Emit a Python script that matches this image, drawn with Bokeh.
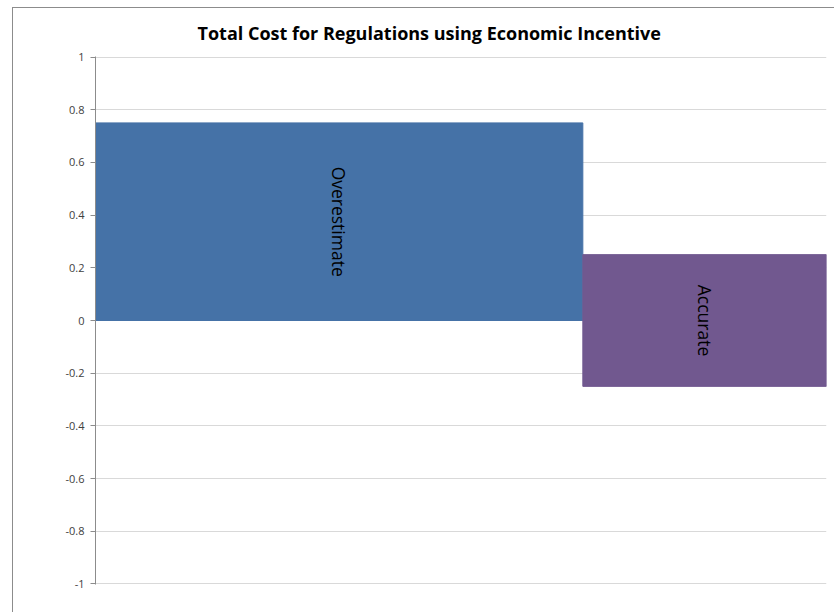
from bokeh.plotting import figure
from bokeh.models import Range1d, FixedTicker, Title, ColumnDataSource
from bokeh.core.properties import value
from bokeh.embed import file_html
from bokeh.resources import INLINE

# ---- data ----
categories = ["Overestimate", "Accurate"]
bar_low = [0.0, -0.25]
bar_high = [0.75, 0.25]
bar_share = [2, 1]            # relative widths of the columns
bar_colors = ["#4572A7", "#71588F"]
y_ticks = [-1, -0.8, -0.6, -0.4, -0.2, 0, 0.2, 0.4, 0.6, 0.8, 1]
y_tick_labels = ["-1", "-0.8", "-0.6", "-0.4", "-0.2", "0", "0.2", "0.4", "0.6", "0.8", "1"]
title_text = "Total Cost for Regulations using Economic Incentive"

# ---- derived geometry from data ----
lefts, rights = [], []
acc = 0
for w in bar_share:
    lefts.append(acc)
    acc += w
    rights.append(acc)
centers_x = [(l + r) / 2 for l, r in zip(lefts, rights)]
centers_y = [(lo + hi) / 2 for lo, hi in zip(bar_low, bar_high)]

src = ColumnDataSource(dict(left=lefts, right=rights, bottom=bar_low, top=bar_high,
                            color=bar_colors, cx=centers_x, cy=centers_y, label=categories))

p = figure(width=822, height=605,
           x_range=Range1d(0, sum(bar_share)), y_range=Range1d(-1.002, 1.002),
           output_backend="svg", toolbar_location=None,
           min_border_left=82, min_border_right=9, min_border_top=48, min_border_bottom=29)
p.margin = (7, 0, 0, 12)
p.styles = {"border-left": "1px solid #8c8c8c", "border-top": "1px solid #8c8c8c"}

p.title = Title(text=title_text, align="left", offset=102, standoff=20,
                vertical_align="top",
                text_font="Open Sans",
                text_font_size="18px", text_font_style="bold", text_color="#000000")

p.quad(left="left", right="right", bottom="bottom", top="top", source=src,
       fill_color="color", line_color="color", line_width=1)
p.text(x="cx", y="cy", text="label", source=src, angle=-1.5707963,
       text_align="center", text_baseline="middle",
       text_font=value("Open Sans"), text_font_size="17.5px", text_color="#000000")

p.xaxis.visible = False
p.xgrid.visible = False
p.ygrid.grid_line_color = "#d9d9d9"
p.ygrid.grid_line_width = 1
p.yaxis.ticker = FixedTicker(ticks=y_ticks)
p.yaxis.major_label_overrides = {t: l for t, l in zip(y_ticks, y_tick_labels)}
p.yaxis.axis_line_color = "#8c8c8c"
p.yaxis.major_tick_line_color = "#8c8c8c"
p.yaxis.major_tick_out = 5
p.yaxis.major_tick_in = 0
p.yaxis.minor_tick_line_color = None
p.yaxis.major_label_text_font = "Open Sans"
p.yaxis.major_label_text_font_size = "11px"
p.yaxis.major_label_text_color = "#404040"
p.yaxis.major_label_standoff = 6
p.outline_line_color = None

open("out.html", "w").write(file_html(p, INLINE))
